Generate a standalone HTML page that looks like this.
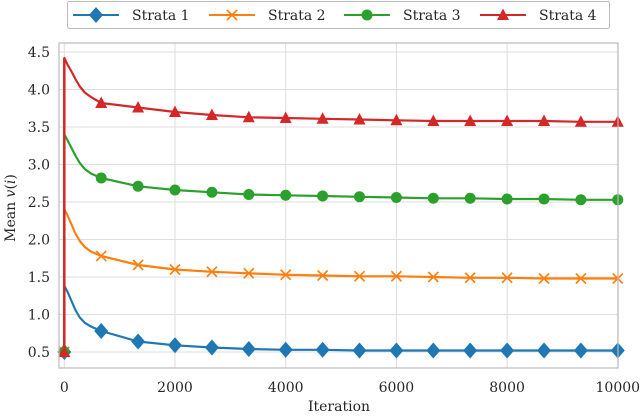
<!DOCTYPE html>
<html><head><meta charset="utf-8"><style>
body{margin:0;background:#fff;}
svg text{font-family:"DejaVu Serif","Liberation Serif",serif;fill:#262626;}
</style></head><body>
<svg width="640" height="414" viewBox="0 0 640 414" id="chart">
<g id="grid"></g><g id="series"></g><g id="axes"></g>
<g>
<rect x="67.5" y="1.5" width="542" height="27" rx="2" fill="#fff" stroke="#bbb"/>
<g id="legend"></g>
</g>
</svg>
<script>
const iterations=[0,1,60,130,200,280,370,480,667,1333,2000,2667,3333,4000,4667,5333,6000,6667,7333,8000,8667,9333,10000];
const strata1=[0.5,1.38,1.3,1.18,1.06,0.96,0.89,0.84,0.78,0.64,0.59,0.56,0.54,0.53,0.53,0.52,0.52,0.52,0.52,0.52,0.52,0.52,0.52];
const strata2=[0.5,2.4,2.32,2.2,2.08,1.98,1.9,1.84,1.78,1.66,1.60,1.57,1.55,1.53,1.52,1.51,1.51,1.50,1.49,1.49,1.48,1.48,1.48];
const strata3=[0.5,3.4,3.32,3.22,3.12,3.02,2.94,2.88,2.82,2.71,2.66,2.63,2.60,2.59,2.58,2.57,2.56,2.55,2.55,2.54,2.54,2.53,2.53];
const strata4=[0.5,4.42,4.33,4.24,4.14,4.04,3.96,3.9,3.82,3.76,3.70,3.66,3.63,3.62,3.61,3.60,3.59,3.58,3.58,3.58,3.58,3.57,3.57];
const seriesNames=["Strata 1","Strata 2","Strata 3","Strata 4"];
const xTicks=[0,2000,4000,6000,8000,10000];
const yTicks=[0.5,1.0,1.5,2.0,2.5,3.0,3.5,4.0,4.5];
const colors=["#1f77b4","#ff7f0e","#2ca02c","#d62728"];
const markers=["diamond","x","circle","triangle"];
const markerIters=[0,667,1333,2000,2667,3333,4000,4667,5333,6000,6667,7333,8000,8667,9333,10000];
const NS="http://www.w3.org/2000/svg";
const L=59,R=618,T=43,B=368;
function xs(v){return 64.3+v*(617.8-64.3)/10000;}
function ys(v){return 352-(v-0.5)*75;}
function mk(tag,attrs,parent){const e=document.createElementNS(NS,tag);for(const k in attrs)e.setAttribute(k,attrs[k]);parent.appendChild(e);return e;}
const grid=document.getElementById('grid'),axes=document.getElementById('axes'),ser=document.getElementById('series'),leg=document.getElementById('legend');
xTicks.forEach(t=>{
 const l=mk('line',{x1:xs(t),x2:xs(t),y1:T,y2:B,stroke:'#ddd','stroke-width':1},grid);
 
 
 const tx=mk('text',{x:xs(t),y:392,'text-anchor':'middle','font-size':14},axes);
 tx.textContent=t;
 
 
});
yTicks.forEach(t=>{
 const l=mk('line',{x1:L,x2:R,y1:ys(t),y2:ys(t),stroke:'#ddd','stroke-width':1},grid);
 
 
 const tx=mk('text',{x:50,y:ys(t)+5,'text-anchor':'end','font-size':14},axes);
 tx.textContent=t.toFixed(1);
 
 
});
const frame=mk('rect',{x:L,y:T,width:R-L,height:B-T,fill:'none',stroke:'#bbb','stroke-width':1.2},axes);


const xl=mk('text',{x:339,y:411,'text-anchor':'middle','font-size':14},axes);
xl.textContent='Iteration';


const yl=mk('text',{x:0,y:0,'text-anchor':'middle','font-size':14,transform:'translate(15,208) rotate(-90)'},axes);
yl.innerHTML='Mean <tspan font-style="italic">v</tspan>(<tspan font-style="italic">i</tspan>)';


function marker(type,x,y,c,p){
 let e;
 if(type==='diamond')e=mk('polygon',{points:`${x},${y-8} ${x+7},${y} ${x},${y+8} ${x-7},${y}`,fill:c},p);
 else if(type==='circle')e=mk('circle',{cx:x,cy:y,r:5.5,fill:c},p);
 else if(type==='triangle')e=mk('polygon',{points:`${x},${y-6.5} ${x+6},${y+5} ${x-6},${y+5}`,fill:c},p);
 else e=mk('path',{d:`M${x-5},${y-5}L${x+5},${y+5}M${x+5},${y-5}L${x-5},${y+5}`,stroke:c,'stroke-width':1.6,fill:'none'},p);
 return e;
}
const all=[strata1,strata2,strata3,strata4];
all.forEach((vals,si)=>{
 const g=mk('g',{},ser);
 
 
 const d=vals.map((v,i)=>(i?'L':'M')+xs(iterations[i]).toFixed(1)+','+ys(v).toFixed(1)).join('');
 const p=mk('path',{d:d,fill:'none',stroke:colors[si],'stroke-width':2.2,'stroke-linejoin':'round'},g);
 
 
 vals.forEach((v,i)=>{
  if(markerIters.indexOf(iterations[i])<0)return;
  const m=marker(markers[si],xs(iterations[i]),ys(v),colors[si],g);
  
  
 });
});
const sp=mk('line',{x1:xs(0),x2:xs(0),y1:ys(strata4[0]),y2:ys(strata4[1]),stroke:colors[3],'stroke-width':2.5},ser);


const lx=[73,209,344,480];
seriesNames.forEach((n,i)=>{
 const g=mk('g',{},leg);
 
 
 mk('line',{x1:lx[i],x2:lx[i]+46,y1:15,y2:15,stroke:colors[i],'stroke-width':2},g);
 marker(markers[i],lx[i]+23,15,colors[i],g);
 const t=mk('text',{x:lx[i]+59,y:20,'font-size':14},g);
 t.textContent=n;
});
</script>
</body></html>
